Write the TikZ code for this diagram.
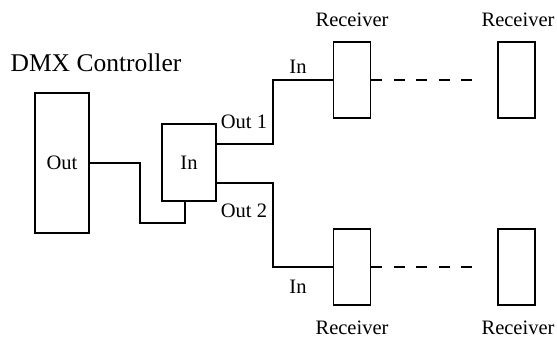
\documentclass[tikz,border=0pt]{standalone}
\usepackage{fontspec}
\setmainfont{Liberation Serif}
\begin{document}
\begin{tikzpicture}[
 x=1pt,y=-1pt,
 line/.style={line width=1.6pt},
 unit/.style={draw,line width=1.6pt,inner sep=0pt},
 rx/.style={unit,minimum width=37pt,minimum height=76pt},
 every node/.style={font=\fontsize{20.5}{24}\selectfont}]
 \useasboundingbox (0,0) rectangle (557,340);
 % controller and splitter
 \node[font=\fontsize{25.5}{30}\selectfont] (title) at (96,63){DMX Controller};
 \node[unit,minimum width=54pt,minimum height=140pt] (ctrl) at (62,163){Out};
 \node[unit,minimum width=54pt,minimum height=77pt] (split) at (189,162.5){In};
 \draw[line] (ctrl.east) -| ++(50,60) -| ([xshift=-4pt]split.south);
 % receivers
 \foreach \nm/\cx/\cy in {rtl/352/80,rtr/516.5/80,rbl/352/267,rbr/516.5/267}{
  \node[rx] (\nm) at (\cx,\cy){};
 }
 \node (lrtl) at (352,20){Receiver};
 \node (lrtr) at (518,20){Receiver};
 \node (lrbl) at (352,328){Receiver};
 \node (lrbr) at (518,328){Receiver};
 % outputs
 \coordinate (j1) at (273,144); \coordinate (j2) at (273,183);
 \draw[line] (split.east |- j1) -- (j1) |- (rtl.west);
 \draw[line] (split.east |- j2) -- (j2) |- (rbl.west);
 \node (out1) at (244,122){Out 1};
 \node (out2) at (244,211){Out 2};
 \node (in1) at (298,67){In};
 \node (in2) at (298,287){In};
 % daisy chain
 \draw[line,dash pattern=on 11pt off 11.5pt] (rtl.east) -- ([xshift=-24pt]rtr.west);
 \draw[line,dash pattern=on 11pt off 11.5pt] (rbl.east) -- ([xshift=-24pt]rbr.west);
\end{tikzpicture}
\end{document}
